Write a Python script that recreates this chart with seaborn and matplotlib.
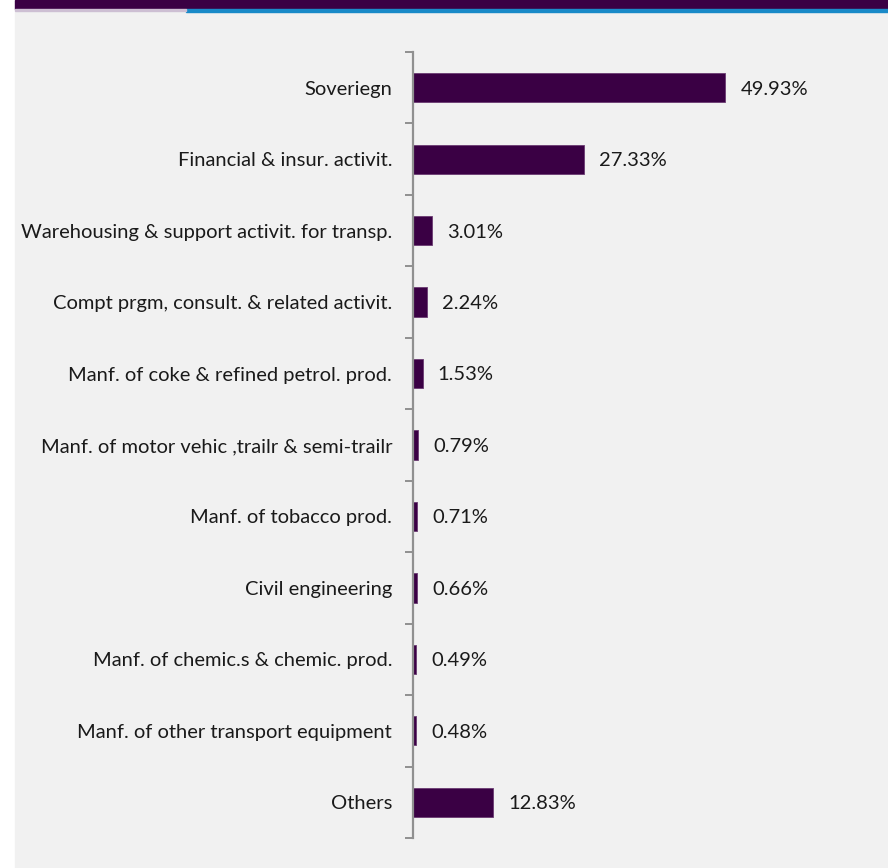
import matplotlib
matplotlib.use("Agg")
import matplotlib.pyplot as plt
from matplotlib.patches import Rectangle
from matplotlib.ticker import FixedLocator
import seaborn as sns
import pandas as pd

sectors = [
    "Soveriegn",
    "Financial & insur. activit.",
    "Warehousing & support activit. for transp.",
    "Compt prgm, consult. & related activit.",
    "Manf. of coke & refined petrol. prod.",
    "Manf. of motor vehic ,trailr & semi-trailr",
    "Manf. of tobacco prod.",
    "Civil engineering",
    "Manf. of chemic.s & chemic. prod.",
    "Manf. of other transport equipment",
    "Others",
]
shares = [49.93, 27.33, 3.01, 2.24, 1.53, 0.79, 0.71, 0.66, 0.49, 0.48, 12.83]

df = pd.DataFrame({"sector": sectors, "share": shares})

sns.set_theme(style="white")
plt.rcParams["font.family"] = ["Lato", "DejaVu Sans"]

W, H = 888, 868
fig = plt.figure(figsize=(W / 100, H / 100), dpi=100, facecolor="white")

# page background and header strip
for (x0, y0, w, h, c) in [
    (15, 12, W - 15, H - 12, "#f1f1f1"),
    (15, 0, W - 15, 9, "#3a0044"),
    (186, 9, W - 186, 3, "#1a8ac8"),
    (15, 9, 171, 2, "#cdbfd3"),
]:
    fig.add_artist(Rectangle((x0 / W, 1 - (y0 + h) / H), w / W, h / H,
                             transform=fig.transFigure, color=c, zorder=-10))

ax = fig.add_axes([413 / W, 30 / H, 467 / W, (838 - 52) / H])
ax.set_facecolor("none")
ax.set_zorder(5)

sns.barplot(data=df, x="share", y="sector", orient="h", color="#3a0044",
            width=0.41, edgecolor="#6a3a72", linewidth=0.6, ax=ax, saturation=1)

ax.set_xlim(0, 74.7)
ax.set_ylim(len(sectors) - 0.5, -0.5)
ax.set_xlabel("")
ax.set_ylabel("")
ax.set_xticks([])

for i, v in enumerate(shares):
    ax.annotate(f"{v:.2f}%", xy=(v, i), xytext=(11, -1), textcoords="offset points",
                ha="left", va="center", fontsize=14.5, color="#1a1a1a")

for s in ["top", "right", "bottom"]:
    ax.spines[s].set_visible(False)
ax.spines["left"].set_color("#909090")
ax.spines["left"].set_linewidth(1.6)

ax.tick_params(axis="y", which="major", length=0, pad=15, labelsize=14.5,
               labelcolor="#1a1a1a")
ax.yaxis.set_minor_locator(FixedLocator([k - 0.5 for k in range(len(sectors) + 1)]))
ax.tick_params(axis="y", which="minor", left=True, length=6, width=1.4,
               color="#909090", direction="out")

fig.savefig("out.png", dpi=100, facecolor="white")
